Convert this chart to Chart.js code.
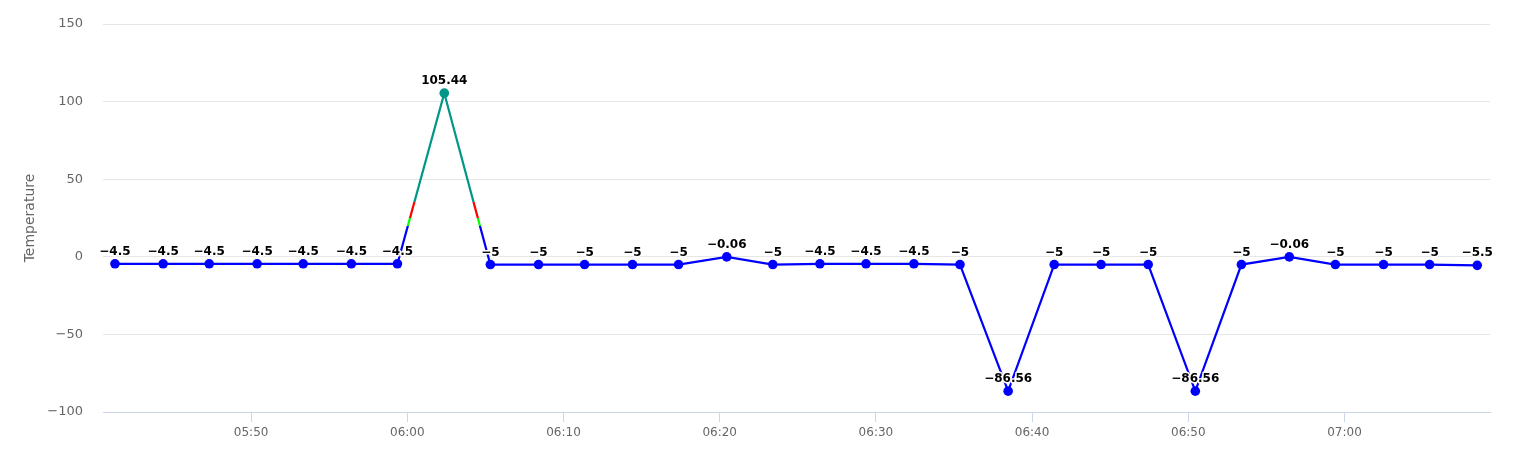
<!DOCTYPE html>
<html lang="en">
<head>
  <meta charset="UTF-8">
  <title>Temperature</title>
  <script src="https://cdn.jsdelivr.net/npm/chart.js"></script>
  <style>
    body { margin: 0; background: #fff; }
  </style>
</head>
<body>
  <canvas id="tempChart" width="1533" height="469"></canvas>

  <script>
    // reading times (hh:mm:ss) and temperature values
    var times = [
      '05:41:17', '05:44:22', '05:47:19', '05:50:23', '05:53:20', '05:56:25',
      '05:59:22', '06:02:22', '06:05:19', '06:08:24', '06:11:21', '06:14:25',
      '06:17:22', '06:20:27', '06:23:24', '06:26:25', '06:29:22', '06:32:26',
      '06:35:23', '06:38:28', '06:41:25', '06:44:25', '06:47:26', '06:50:27',
      '06:53:24', '06:56:28', '06:59:25', '07:02:30', '07:05:27', '07:08:30'
    ];
    var temperatures = [
      -4.5, -4.5, -4.5, -4.5, -4.5, -4.5,
      -4.5, 105.44, -5, -5, -5, -5,
      -5, -0.06, -5, -4.5, -4.5, -4.5,
      -5, -86.56, -5, -5, -5, -86.56,
      -5, -0.06, -5, -5, -5, -5.5
    ];
    var xTickLabels = ['05:50', '06:00', '06:10', '06:20', '06:30', '06:40', '06:50', '07:00'];
    var yTicks = [-100, -50, 0, 50, 100, 150];
    var xRange = ['05:40:31', '07:09:19'];
    // zone limits: below 20 / 20-25 / 25-35 / above 35
    var zoneLimits = [20, 25, 35];

    var zoneColors = ['#0000ff', '#00ff00', '#ff0000', '#009688'];

    function toMinutes(s) {
      var p = s.split(':').map(Number);
      return p[0] * 60 + p[1] + (p[2] || 0) / 60;
    }
    function fmtTime(m) {
      var h = Math.floor(m / 60), mm = Math.round(m - h * 60);
      return (h < 10 ? '0' : '') + h + ':' + (mm < 10 ? '0' : '') + mm;
    }
    function fmtNum(v) {
      return String(v).replace('-', '\u2212');
    }
    function zoneColor(v) {
      for (var i = 0; i < zoneLimits.length; i++) {
        if (v < zoneLimits[i]) return zoneColors[i];
      }
      return zoneColors[zoneColors.length - 1];
    }

    var points = times.map(function(t, i) {
      return { x: toMinutes(t), y: temperatures[i] };
    });

    // vertical gradient with hard stops, so the line changes colour at the zone limits
    function lineGradient(context) {
      var chart = context.chart;
      var area = chart.chartArea;
      if (!area) return zoneColors[0];
      var y = chart.scales.y;
      var g = chart.ctx.createLinearGradient(0, area.bottom, 0, area.top);
      var h = area.bottom - area.top;
      var prev = 0;
      for (var i = 0; i < zoneLimits.length; i++) {
        var f = Math.min(1, Math.max(0, (area.bottom - y.getPixelForValue(zoneLimits[i])) / h));
        g.addColorStop(prev, zoneColors[i]);
        g.addColorStop(f, zoneColors[i]);
        prev = f;
      }
      g.addColorStop(prev, zoneColors[zoneColors.length - 1]);
      g.addColorStop(1, zoneColors[zoneColors.length - 1]);
      return g;
    }

    // value labels above each point, black with a white outline
    var valueLabels = {
      id: 'valueLabels',
      afterDatasetsDraw: function(chart) {
        var ctx = chart.ctx;
        var meta = chart.getDatasetMeta(0);
        ctx.save();
        ctx.font = 'bold 12px "DejaVu Sans"';
        ctx.textAlign = 'center';
        ctx.textBaseline = 'alphabetic';
        ctx.lineJoin = 'round';
        meta.data.forEach(function(el, i) {
          var txt = fmtNum(temperatures[i]);
          ctx.lineWidth = 3;
          ctx.strokeStyle = '#ffffff';
          ctx.strokeText(txt, el.x, el.y - 9);
          ctx.fillStyle = '#000000';
          ctx.fillText(txt, el.x, el.y - 9);
        });
        ctx.restore();
      }
    };

    Chart.defaults.font.family = '"DejaVu Sans", sans-serif';
    Chart.defaults.color = '#666666';

    var ctx = document.getElementById('tempChart').getContext('2d');
    var chart = new Chart(ctx, {
      type: 'line',
      data: {
        datasets: [{
          label: 'Temperature',
          data: points,
          borderColor: lineGradient,
          borderWidth: 2.2,
          tension: 0,
          fill: false,
          pointRadius: 4.8,
          pointBorderWidth: 0,
          pointBackgroundColor: function(c) {
            return c.raw ? zoneColor(c.raw.y) : zoneColors[0];
          }
        }]
      },
      plugins: [valueLabels],
      options: {
        responsive: false,
        animation: false,
        layout: { padding: { top: 24, right: 43, bottom: 0, left: 0 } },
        plugins: {
          legend: { display: false },
          tooltip: { enabled: false }
        },
        scales: {
          x: {
            type: 'linear',
            min: toMinutes(xRange[0]),
            max: toMinutes(xRange[1]),
            afterBuildTicks: function(axis) {
              axis.ticks = xTickLabels.map(function(t) { return { value: toMinutes(t) }; });
            },
            afterFit: function(axis) {
              axis.height = 57;
              axis.paddingLeft = 0;
              axis.paddingRight = 0;
            },
            ticks: {
              callback: function(v) { return fmtTime(v); },
              font: { size: 12 },
              color: '#666666',
              padding: 4,
              maxRotation: 0,
              autoSkip: false
            },
            grid: {
              drawOnChartArea: false,
              drawTicks: true,
              tickLength: 10,
              color: '#ccd6eb',
              tickColor: '#ccd6eb'
            },
            border: { display: true, color: '#ccd6eb', width: 1 }
          },
          y: {
            min: yTicks[0],
            max: yTicks[yTicks.length - 1],
            afterBuildTicks: function(axis) {
              axis.ticks = yTicks.map(function(v) { return { value: v }; });
            },
            afterFit: function(axis) {
              axis.width = 103;
              axis.paddingTop = 0;
              axis.paddingBottom = 0;
            },
            ticks: {
              callback: function(v) { return fmtNum(v); },
              font: { size: 13 },
              color: '#666666',
              padding: 20
            },
            grid: {
              color: '#e6e6e6',
              drawTicks: false
            },
            border: { display: false },
            title: {
              display: true,
              text: 'Temperature',
              font: { size: 14 },
              color: '#666666',
              padding: { top: 22, bottom: 0 }
            }
          }
        }
      }
    });
  </script>
</body>
</html>
